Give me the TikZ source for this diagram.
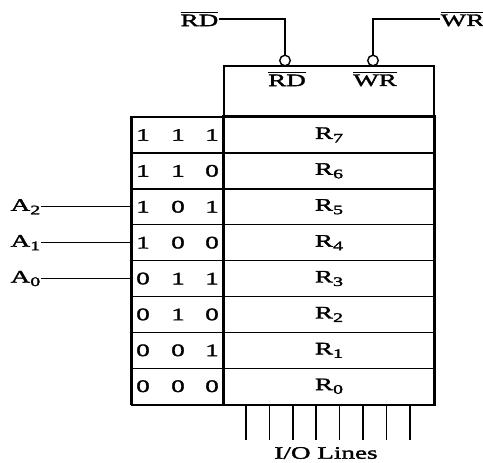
\documentclass[tikz,border=0pt]{standalone}
\usepackage{fontspec}
\setmainfont{Liberation Serif}[FakeStretch=1.55,FakeBold=2]
\usepackage{tikz}
\usetikzlibrary{positioning,calc}
\newcommand{\lowsub}[1]{\raisebox{-3.5pt}{\fontsize{13}{14}\selectfont #1}}
\newcommand{\barlbl}[1]{\leavevmode\vbox{\hrule height 1.2pt\kern 1.6pt\hbox{#1}}}

\begin{document}
\begin{tikzpicture}[
    x=1pt, y=-1pt,
    every node/.style={font=\fontsize{17.5}{19}\selectfont, inner sep=0.5pt},
    regbox/.style={draw, line width=1.4pt, minimum width=210pt, minimum height=35.9pt},
    bitbox/.style={draw, line width=1.4pt, minimum width=91pt, minimum height=35.9pt},
    bubble/.style={draw, line width=1.4pt, circle, fill=white, minimum size=10.5pt, inner sep=0pt},
    wire/.style={line width=1.2pt}
  ]
    \useasboundingbox (0,0) rectangle (483,463);
    % control part on top
    \node[draw, line width=2pt, minimum width=210pt, minimum height=51pt] (ctrl) at (329,91.5) {};
    \node (rdin) at (287,79) {\barlbl{RD}};
    \node (wrin) at (375,79) {\barlbl{WR}};
    \node[bubble] (rdb) at (285,60.5) {};
    \node[bubble] (wrb) at (373,60.5) {};
    \node[anchor=east] (rdsig) at (219,19) {\barlbl{RD}};
    \node[anchor=west] (wrsig) at (440,19) {\barlbl{WR}};
    \draw[wire] (rdsig.east) -| (rdb.north);
    \draw[wire] (wrsig.west) -| (wrb.north);
    % registers and their addresses
    \foreach \i/\a/\b/\c in {7/1/1/1, 6/1/1/0, 5/1/0/1, 4/1/0/0, 3/0/1/1, 2/0/1/0, 1/0/0/1, 0/0/0/0} {
      \node[regbox] (r\i) at (329,{117+(7-\i)*35.9+17.95}) {R\lowsub{\i}};
      \node[bitbox] (b\i) at (177.5,{117+(7-\i)*35.9+17.95}) {};
      \node (b\i a) at ([xshift=-34.5pt]b\i.center) {\a};
      \node (b\i b) at ([xshift=0.5pt]b\i.center) {\b};
      \node (b\i c) at ([xshift=34.5pt]b\i.center) {\c};
    }
    \draw[line width=2pt] (r7.north west) rectangle (r0.south east);
    \draw[line width=3pt] (b7.north west) -- (b0.south west);
    \draw[line width=2pt] (b7.north east) -- (b0.south east);
    \draw[line width=2pt] (b0.south west) -- (b0.south east);
    % address inputs
    \node[anchor=east] (a2) at (41,{117+2*35.9+17.95}) {A\lowsub{2}};
    \node[anchor=east] (a1) at (41,{117+3*35.9+17.95}) {A\lowsub{1}};
    \node[anchor=east] (a0) at (41,{117+4*35.9+17.95}) {A\lowsub{0}};
    \draw[wire] (a2.east) -- (b5.west);
    \draw[wire] (a1.east) -- (b4.west);
    \draw[wire] (a0.east) -- (b3.west);
    % data lines
    \foreach \k in {0,...,7} {
      \coordinate (io\k) at ({246+\k*23.4},440);
      \draw[line width=1.6pt] (io\k |- r0.south) -- (io\k);
    }
    \node (iolbl) at (326,453) {I/O Lines};
  \end{tikzpicture}
\end{document}
